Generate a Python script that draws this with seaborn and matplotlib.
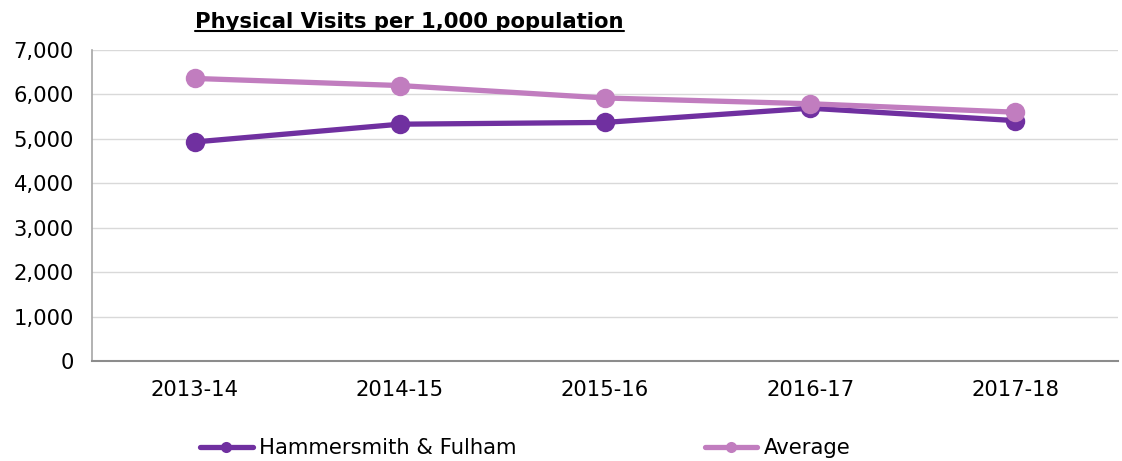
import matplotlib
matplotlib.use("Agg")
import matplotlib.pyplot as plt
import seaborn as sns
import pandas as pd
from matplotlib.lines import Line2D
from matplotlib.ticker import FuncFormatter

years = ["2013-14", "2014-15", "2015-16", "2016-17", "2017-18"]
hf_values = [4930, 5330, 5370, 5690, 5410]
avg_values = [6360, 6200, 5920, 5790, 5600]
series_names = ["Hammersmith & Fulham", "Average"]
title = "Physical Visits per 1,000 population"

df = pd.DataFrame({
    "Year": years * 2,
    "Value": hf_values + avg_values,
    "Series": [series_names[0]] * len(years) + [series_names[1]] * len(years),
})

sns.set_theme(style="white")
plt.rcParams["font.family"] = ["DejaVu Sans"]
plt.rcParams["text.color"] = "black"

fig = plt.figure(figsize=(11.22, 4.61), dpi=100)
ax = fig.add_axes([92 / 1122, 1 - 361 / 461, 1026 / 1122, 311 / 461])

palette = {series_names[0]: "#7030A0", series_names[1]: "#C17DBF"}
sns.lineplot(data=df, x="Year", y="Value", hue="Series", palette=palette,
             marker="o", markersize=14, markeredgewidth=0, linewidth=3.8,
             sort=False, ax=ax, legend=False)

ax.set_xlim(-0.5, 4.5)
ax.set_ylim(0, 7000)
ax.set_yticks(range(0, 7001, 1000))
ax.yaxis.set_major_formatter(FuncFormatter(lambda v, p: f"{int(v):,}"))
ax.set_xlabel("")
ax.set_ylabel("")
ax.grid(axis="y", color="#D9D9D9", linewidth=1)
ax.set_axisbelow(True)
for s in ["top", "right"]:
    ax.spines[s].set_visible(False)
ax.spines["left"].set_color("#A6A6A6")
ax.spines["bottom"].set_color("#8C8C8C")
ax.spines["left"].set_linewidth(1.2)
ax.spines["bottom"].set_linewidth(1.5)
ax.tick_params(axis="y", length=0, pad=13, labelsize=15.2, colors="black")
ax.tick_params(axis="x", length=0, pad=14, labelsize=15.2, colors="black")

t = fig.text(195 / 1122, 1 - 22 / 461, title, fontsize=15.2, fontweight="bold",
             ha="left", va="center", color="black")
fig.canvas.draw()
bb = t.get_window_extent().transformed(fig.transFigure.inverted())
fig.add_artist(Line2D([bb.x0, bb.x1], [bb.y0 + 0.003, bb.y0 + 0.003],
                      transform=fig.transFigure, color="black", linewidth=1.5))

handles = [Line2D([0], [0], color=palette[n], linewidth=3.8, marker="o",
                  markersize=8, markeredgewidth=0) for n in series_names]
fig.legend(handles, series_names, loc="center left",
           bbox_to_anchor=(200 / 1122, 1 - 448 / 461), ncol=2, frameon=False,
           fontsize=15.2, handlelength=2.5, handletextpad=0.3,
           columnspacing=8.9, borderaxespad=0, borderpad=0)

fig.savefig("out.png", dpi=100, facecolor="white")
